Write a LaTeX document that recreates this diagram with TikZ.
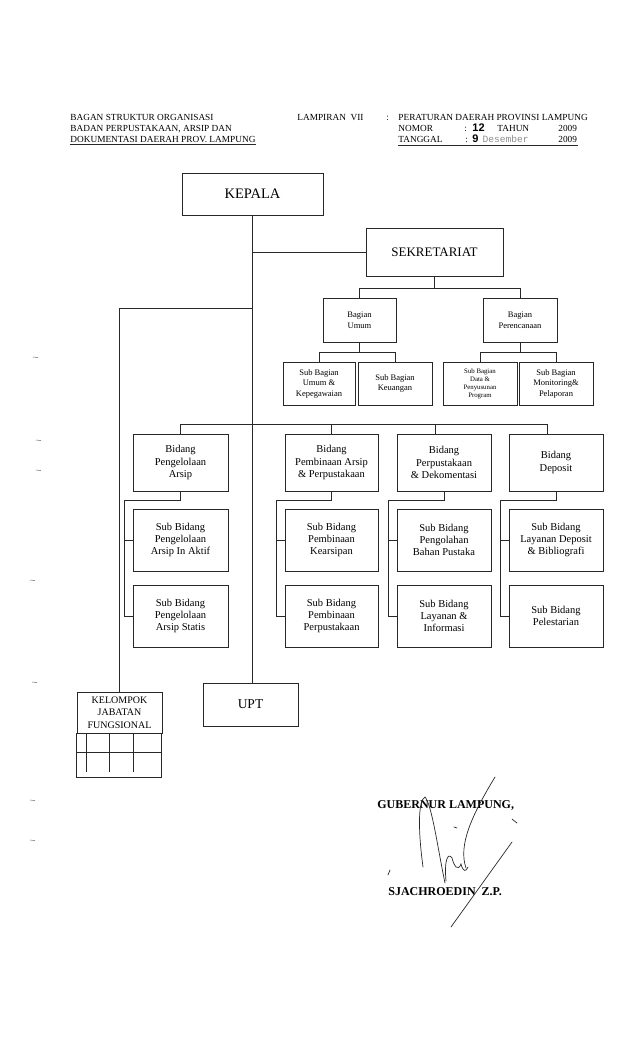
\documentclass[tikz,border=0pt]{standalone}
\usepackage{fontspec}
\setmainfont{Liberation Serif}
\setmonofont{Liberation Mono}
\newfontfamily\numfont{Liberation Sans}
\usetikzlibrary{positioning}
\definecolor{ink}{RGB}{40,40,40}
\tikzset{orgchart/.style={x=1pt,y=-1pt,line width=0.8pt,draw=ink},
  box/.style={draw=ink,line width=0.8pt,align=center,inner sep=1pt},
  wh/.style 2 args={minimum width=#1,minimum height=#2},
  hdr/.style={inner sep=0pt,font=\fontsize{9.3}{10.8}\selectfont},
  bigbox/.style={box,font=\fontsize{14.5}{16}\selectfont},
  bidbox/.style={box,font=\fontsize{10.5}{12.3}\selectfont},
  bagbox/.style={box,font=\fontsize{8.5}{10.5}\selectfont},
  tinybox/.style={box,font=\fontsize{6.8}{8}\selectfont},
  sigtext/.style={inner sep=0pt,font=\fontsize{12}{14}\selectfont\bfseries},
  sig/.style={line width=0.7pt,draw=ink,line cap=round}}

\begin{document}
\begin{tikzpicture}[orgchart]
    \useasboundingbox (0,0) rectangle (638,1051);
    % header
    \node[hdr,anchor=north west,align=left] (judul) at (70,114)
      {BAGAN STRUKTUR ORGANISASI\\BADAN PERPUSTAKAAN, ARSIP DAN\\DOKUMENTASI DAERAH PROV. LAMPUNG};
    \draw ([yshift=-2]judul.south west) -- ([yshift=-2]judul.south east);
    \node[hdr,anchor=base west] (lampiran) at (297,120.5) {LAMPIRAN\ \ VII};
    \node[hdr,anchor=base west] (titik) at (386,120.5) {:};
    \node[hdr,anchor=north west,align=left] (perda) at (398,114)
      {PERATURAN DAERAH PROVINSI LAMPUNG\\
       \makebox[66pt][l]{NOMOR}\makebox[8pt][l]{:}\makebox[25pt][l]{\numfont\bfseries\fontsize{11}{10.8}\selectfont 12}\makebox[61pt][l]{TAHUN}2009\\
       \makebox[67pt][l]{TANGGAL}\makebox[7pt][l]{:}\makebox[86pt][l]{\numfont\bfseries\fontsize{11}{10.8}\selectfont 9\hspace{4pt}{\ttfamily\mdseries\fontsize{9.6}{10.8}\selectfont\color{black!45}Desember}}2009};
    \draw[line width=1.1pt] ([yshift=-3]perda.south west) -- ++(180,0);
    % top boxes
    \node[bigbox,wh={141}{42}] (kepala) at (252.5,194) {KEPALA};
    \node[bigbox,wh={137}{48},font=\fontsize{13}{15}\selectfont] (sekre) at (434.5,252) {SEKRETARIAT};
    \node[bagbox,wh={73}{44}] (umum) at (359.5,320) {Bagian\\Umum};
    \node[bagbox,wh={74}{44}] (renc) at (520,320) {Bagian\\Perencanaan};
    \node[bagbox,wh={72}{43}] (sbumum) at (319,383.5) {Sub Bagian\\Umum \&\\Kepegawaian};
    \node[bagbox,wh={74}{43}] (sbkeu) at (395,383.5) {Sub Bagian\\Keuangan};
    \node[tinybox,wh={74}{43}] (sbdata) at (480,383.5) {Sub Bagian\\Data \&\\Penyusunan\\Program};
    \node[bagbox,wh={74}{43}] (sbmon) at (556,383.5) {Sub Bagian\\Monitoring\&\\Pelaporan};
    % bidang
    \node[bidbox,wh={95}{57}] (bpa) at (180.5,462.5) {Bidang\\Pengelolaan\\Arsip};
    \node[bidbox,wh={93}{57}] (bpb) at (331.5,462.5) {Bidang\\Pembinaan Arsip\\\& Perpustakaan};
    \node[bidbox,wh={94}{57}] (bpp) at (444,462.5) {Bidang\\Perpustakaan\\\& Dekomentasi};
    \node[bidbox,wh={94}{57}] (bdp) at (556,462.5) {Bidang\\Deposit};
    \node[bidbox,wh={95}{62}] (spa1) at (180.5,540) {Sub Bidang\\Pengelolaan\\Arsip In Aktif};
    \node[bidbox,wh={95}{62}] (spa2) at (180.5,616) {Sub Bidang\\Pengelolaan\\Arsip Statis};
    \node[bidbox,wh={93}{62}] (spb1) at (331.5,540) {Sub Bidang\\Pembinaan\\Kearsipan};
    \node[bidbox,wh={93}{62}] (spb2) at (331.5,616) {Sub Bidang\\Pembinaan\\Perpustakaan};
    \node[bidbox,wh={94}{62}] (spp1) at (444,540) {Sub Bidang\\Pengolahan\\Bahan Pustaka};
    \node[bidbox,wh={94}{62}] (spp2) at (444,616) {Sub Bidang\\Layanan \&\\Informasi};
    \node[bidbox,wh={94}{62}] (sdp1) at (556,540) {Sub Bidang\\Layanan Deposit\\\& Bibliografi};
    \node[bidbox,wh={94}{62}] (sdp2) at (556,616) {Sub Bidang\\Pelestarian};
    % bottom
    \node[bigbox,wh={95}{43},font=\fontsize{13.5}{16}\selectfont] (upt) at (250.5,704.5) {UPT};
    \node[box,wh={85}{41},font=\fontsize{10}{12.3}\selectfont] (kjf) at (119.5,712.5) {KELOMPOK\\JABATAN\\FUNGSIONAL};
    \draw (kjf.south west) rectangle ++(85,44);
    \draw (kjf.south west) ++(0,19) -- ++(85,0);
    \foreach \dx in {10,33,57} \draw (kjf.south west) ++(\dx,0) -- ++(0,39);
    % lines
    \draw (kepala.south) -- (kepala.south |- upt.north);
    \draw (sekre.west) -- (sekre.west -| kepala.south);
    \draw (kepala.south) ++(0,93) -| (kjf.north);
    \draw (sekre.south) -- ++(0,12) -| (umum.north);
    \draw (sekre.south) ++(0,12) -| (renc.north);
    \draw (umum.south) -- ++(0,10) -| (sbumum.north);
    \draw (umum.south) ++(0,10) -| (sbkeu.north);
    \draw (renc.south) -- ++(0,10) -| (sbdata.north);
    \draw (renc.south) ++(0,10) -| (sbmon.north);
    \coordinate (bus) at (0,424);
    \draw (bpa.north) |- ([xshift=-9]bdp.north |- bus) -- ([xshift=-9]bdp.north);
    \draw (bpb.north) -- (bpb.north |- bus);
    \draw ([xshift=-9]bpp.north) -- ([xshift=-9]bpp.north |- bus);
    \foreach \b/\s/\t in {bpa/spa1/spa2,bpb/spb1/spb2,bpp/spp1/spp2,bdp/sdp1/sdp2}{
      \draw (\b.south) -- ++(0,8.5) -| ([xshift=-8.5]\t.west) -- (\t.west);
      \draw ([xshift=-8.5]\s.west) -- (\s.west);
    }
    % signature
    \node[sigtext,anchor=base west] (gub) at (377,808) {GUBERNUR LAMPUNG,};
    \node[sigtext,anchor=base west] (nama) at (388,895) {SJACHROEDIN\ \ Z.P.};
    \draw[sig] (495,777) .. controls (472,815) and (458,845) .. (466,868);
    \draw[sig] (512,842) -- (451,927);
    \draw[sig] (423,867) .. controls (418,830) and (418,800) .. (425,797) .. controls (432,805) and (438,850) .. (445,883);
    \draw[sig] (446,881) .. controls (444,860) and (448,852) .. (452,858) .. controls (454,866) and (458,872) .. (461,864) .. controls (463,872) and (466,872) .. (468,867);
    \draw[sig] (454,827) -- (457,828);
    \draw[sig] (512,819) -- (517,823);
    \draw[sig] (390,870) -- (388,875);
    % scan marks
    \foreach \mx/\my in {33/357,36/440,36/470,30/580,32/682,30/800,30/840}
      \draw[line width=0.5pt,black!60] (\mx,\my) -- ++(5,0.5);
  \end{tikzpicture}
\end{document}
